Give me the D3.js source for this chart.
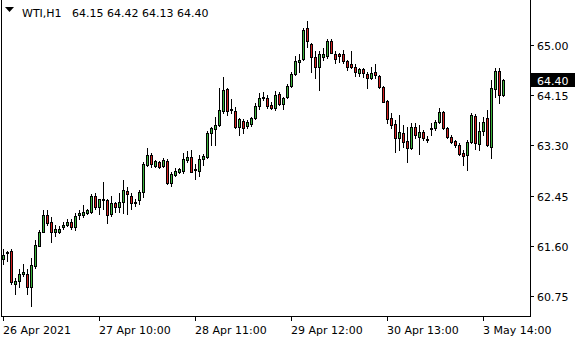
<!DOCTYPE html>
<html><head><meta charset="utf-8">
<script src="https://cdn.jsdelivr.net/npm/d3@7/dist/d3.min.js"></script>
<style>html,body{margin:0;padding:0;background:#fff;}svg{display:block;}text{font-family:"DejaVu Sans",sans-serif;font-size:11px;}</style>
</head><body>
<script>
const symbol = "WTI,H1";
const lastOHLC = ["64.15","64.42","64.13","64.40"];
const open = [61.38,61.47,61.52,60.96,61.00,61.13,61.13,60.91,61.25,61.60,
61.83,62.12,62.01,61.84,61.83,61.91,61.95,62.01,61.91,62.12,
62.12,62.15,62.17,62.45,62.25,62.37,62.37,62.13,62.32,62.25,
62.35,62.52,62.45,62.34,62.37,62.51,62.96,63.13,62.95,63.02,
62.95,63.03,62.66,62.80,62.85,62.86,63.05,63.10,62.88,62.86,
63.07,63.10,63.51,63.58,63.65,63.88,64.26,63.90,63.88,63.61,
63.71,63.63,63.66,63.76,63.97,64.10,64.10,63.99,63.93,64.17,
64.00,64.12,64.31,64.51,64.72,64.77,65.28,65.02,64.80,64.63,
64.80,64.82,65.06,64.85,64.85,64.85,64.73,64.67,64.63,64.53,
64.60,64.51,64.44,64.55,64.48,64.29,64.05,63.76,63.66,63.42,
63.51,63.37,63.25,63.61,63.44,63.53,63.40,63.58,63.59,63.70,
63.87,63.59,63.44,63.37,63.31,63.17,63.14,63.36,63.80,63.32,
63.54,63.76,63.27,64.26,64.56,64.15];
const high = [61.55,61.52,61.54,61.06,61.21,61.30,61.20,61.40,61.69,61.86,
62.20,62.20,62.08,61.95,61.93,62.00,62.05,62.05,62.15,62.20,
62.29,62.22,62.47,62.49,62.40,62.68,62.40,62.45,62.35,62.49,
62.71,62.59,62.49,62.39,62.54,63.02,63.25,63.17,63.05,63.03,
63.08,63.07,62.85,62.91,62.91,63.17,63.20,63.22,62.98,63.13,
63.15,63.54,63.61,63.78,64.27,64.46,64.27,64.09,63.95,63.76,
63.75,63.73,63.78,64.02,64.19,64.21,64.15,64.04,64.22,64.21,
64.12,64.34,64.55,64.82,64.84,65.28,65.40,65.04,64.89,64.89,
64.95,65.11,65.11,64.90,64.87,64.92,64.75,64.89,64.67,64.61,
64.61,64.55,64.63,64.68,64.50,64.31,64.07,63.85,63.73,63.82,
63.65,63.61,63.68,63.68,63.65,63.56,63.46,63.68,63.73,63.93,
63.88,63.61,63.48,63.39,63.34,63.22,63.39,63.85,63.83,63.70,
63.78,63.90,64.41,64.61,64.61,64.42];
const low = [61.30,61.35,60.96,60.79,60.91,61.09,60.79,60.58,61.23,61.59,
61.83,61.95,61.67,61.77,61.81,61.88,61.93,61.89,61.86,62.06,
62.08,62.13,62.15,62.23,62.13,62.23,61.98,62.10,62.17,62.17,
62.15,62.13,62.23,62.27,62.30,62.42,62.95,62.93,62.93,62.91,
62.93,62.64,62.61,62.78,62.83,62.83,63.02,62.85,62.73,62.78,
62.96,63.08,63.30,63.30,63.63,63.85,63.81,63.85,63.59,63.47,
63.51,63.59,63.63,63.75,63.92,64.07,63.93,63.92,63.90,63.99,
63.92,64.10,64.29,64.50,64.55,64.75,64.97,64.55,64.44,64.24,
64.75,64.78,64.87,64.70,64.72,64.70,64.58,64.61,64.48,64.48,
64.46,64.27,64.43,64.44,64.27,64.04,63.68,63.59,63.19,63.22,
63.27,63.02,63.24,63.42,63.15,63.39,63.36,63.48,63.56,63.68,
63.58,63.42,63.34,63.27,63.14,62.97,62.88,63.34,63.24,63.22,
63.48,63.29,63.08,64.12,64.02,64.13];
const close = [61.45,61.50,60.98,61.01,61.13,61.16,60.91,61.28,61.62,61.84,
62.12,61.98,61.83,61.88,61.89,61.96,62.01,61.91,62.10,62.15,
62.17,62.20,62.45,62.25,62.39,62.40,62.12,62.32,62.25,62.35,
62.54,62.47,62.32,62.33,62.51,62.98,63.13,62.98,63.03,62.93,
63.05,62.66,62.81,62.86,62.90,63.07,63.10,62.85,62.90,63.07,
63.12,63.51,63.59,63.65,63.90,64.24,63.88,63.92,63.61,63.75,
63.59,63.70,63.76,63.97,64.10,64.12,63.97,63.93,64.15,64.00,
64.10,64.31,64.51,64.73,64.75,65.26,65.06,64.80,64.63,64.84,
64.85,65.06,64.87,64.77,64.82,64.73,64.63,64.63,64.55,64.60,
64.53,64.44,64.53,64.50,64.29,64.04,63.75,63.65,63.42,63.53,
63.36,63.25,63.61,63.48,63.53,63.42,63.39,63.59,63.70,63.87,
63.59,63.44,63.36,63.31,63.15,63.12,63.36,63.82,63.34,63.54,
63.70,63.31,64.27,64.56,64.16,64.40];
const yTicks = [60.75,61.60,62.45,63.30,64.15,65.00];
const xTickIndex = [0,24,48,72,96,120];
const xTickLabels = ["26 Apr 2021","27 Apr 10:00","28 Apr 11:00","29 Apr 12:00","30 Apr 13:00","3 May 14:00"];
const lastPrice = 64.40;

const W = 580, H = 340;
const svg = d3.select("body").append("svg").attr("width", W).attr("height", H);
svg.append("rect").attr("width", W).attr("height", H).attr("fill", "#fff");

const x = d3.scaleLinear().domain([0, 1]).range([3, 7]); // column of bar
const y = d3.scaleLinear().domain([60.75, 65.00]).range([296, 45]);
const py = v => Math.round(y(v));

// frame
const g = svg.append("g").attr("shape-rendering", "crispEdges");
g.append("line").attr("x1", 1.5).attr("x2", 1.5).attr("y1", 0).attr("y2", 317).attr("stroke", "#000");
g.append("line").attr("x1", 530.5).attr("x2", 530.5).attr("y1", 0).attr("y2", 317).attr("stroke", "#000");
g.append("line").attr("x1", 1).attr("x2", 531).attr("y1", 316.5).attr("y2", 316.5).attr("stroke", "#000");

// candles
const data = open.map((o, i) => ({i, o, h: high[i], l: low[i], c: close[i]}));
const cg = svg.append("g").attr("shape-rendering", "crispEdges");
data.forEach(d => {
  const col = Math.round(x(d.i));
  cg.append("line").attr("x1", col + 0.5).attr("x2", col + 0.5)
    .attr("y1", py(d.h)).attr("y2", py(d.l) + 1).attr("stroke", "#000");
  const top = py(Math.max(d.o, d.c)), bot = py(Math.min(d.o, d.c));
  if (bot - top < 1) {
    cg.append("line").attr("x1", col - 1).attr("x2", col + 2)
      .attr("y1", top + 0.5).attr("y2", top + 0.5).attr("stroke", "#000");
  } else {
    cg.append("rect").attr("x", col - 0.5).attr("width", 2)
      .attr("y", top + 0.5).attr("height", bot - top)
      .attr("fill", d.c >= d.o ? "#3cb43c" : "#d42020").attr("stroke", "#000");
  }
});

// y axis
yTicks.forEach(v => {
  const yy = py(v);
  g.append("line").attr("x1", 531).attr("x2", 534).attr("y1", yy + 0.5).attr("y2", yy + 0.5).attr("stroke", "#000");
  svg.append("text").attr("x", 537).attr("y", yy + 4.5).attr("fill", "#000").text(d3.format(".2f")(v));
});

// last price box
const ly = py(lastPrice);
svg.append("rect").attr("x", 531).attr("y", ly - 7).attr("width", 44).attr("height", 14).attr("fill", "#000");
svg.append("text").attr("x", 537).attr("y", ly + 4.5).attr("fill", "#fff").text(d3.format(".2f")(lastPrice));

// x axis
xTickIndex.forEach((idx, k) => {
  const col = Math.round(x(idx));
  g.append("line").attr("x1", col + 0.5).attr("x2", col + 0.5).attr("y1", 317).attr("y2", 321).attr("stroke", "#000");
  svg.append("text").attr("x", col).attr("y", 334).attr("fill", "#000").text(xTickLabels[k]);
});

// title
svg.append("path").attr("d", "M5,7 L14,7 L9.5,12 Z").attr("fill", "#000");
svg.append("text").attr("x", 22).attr("y", 17).attr("fill", "#000").text(symbol);
svg.append("text").attr("x", 72).attr("y", 17).attr("fill", "#000").text(lastOHLC.join(" "));
</script>
</body></html>
